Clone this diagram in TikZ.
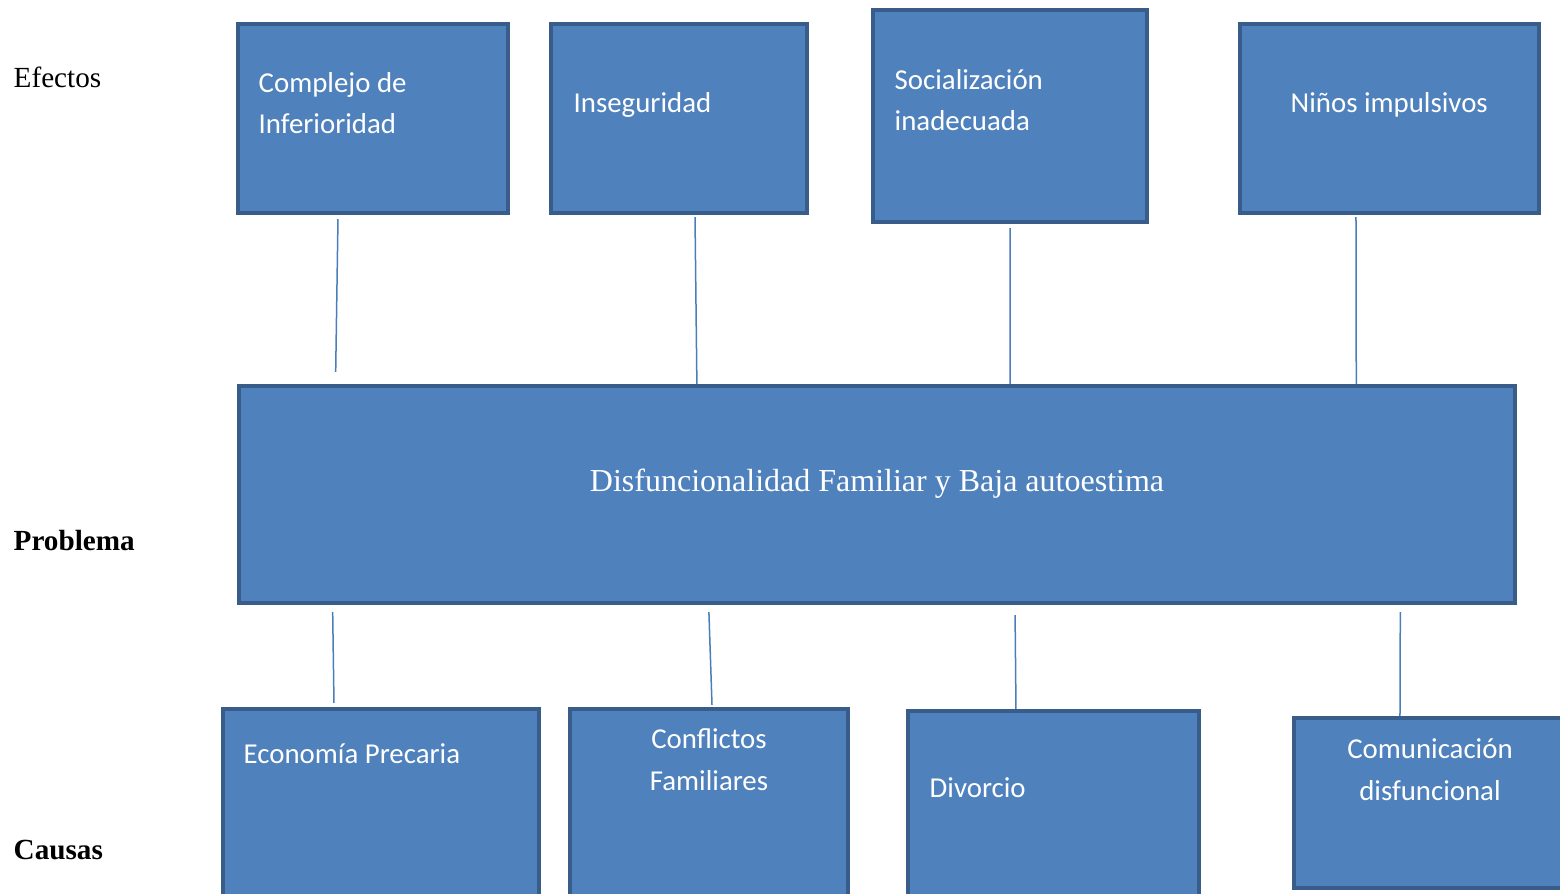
\documentclass[tikz,border=0pt]{standalone}
\usepackage{fontspec}
\setmainfont{Liberation Serif}
\newfontfamily\boxfont{Carlito}
\definecolor{boxfill}{HTML}{4F81BD}
\definecolor{boxline}{HTML}{385D8A}
\definecolor{linkcol}{HTML}{4A7EBB}
\tikzset{
  box/.style={draw=boxline, fill=boxfill, line width=0.04cm, inner sep=0pt},
  boxtext/.style={text=white, inner sep=0pt, anchor=base west, align=left, font=\boxfont\fontsize{8.2}{11.7}\selectfont},
  sidetext/.style={inner sep=0pt, anchor=base west, font=\fontsize{8.3}{10}\selectfont},
  link/.style={draw=linkcol, line width=0.015cm}
}
\begin{document}
\begin{tikzpicture}[x=0.01cm, y=-0.01cm]
  \useasboundingbox (0,0) rectangle (1560,894);
  % efectos
  \node[box, minimum width=2.70cm, minimum height=1.89cm] (ef1) at (373,118.5) {};
  \node[box, minimum width=2.56cm, minimum height=1.89cm] (ef2) at (679,118.5) {};
  \node[box, minimum width=2.74cm, minimum height=2.12cm] (ef3) at (1010,116) {};
  \node[box, minimum width=2.99cm, minimum height=1.89cm] (ef4) at (1389.5,118.5) {};
  % problema
  \node[box, minimum width=12.76cm, minimum height=2.17cm] (prob) at (877,494.5) {};
  % causas
  \node[box, minimum width=3.16cm, minimum height=2.09cm] (ca1) at (381,813.5) {};
  \node[box, minimum width=2.78cm, minimum height=2.09cm] (ca2) at (709,813.5) {};
  \node[box, minimum width=2.91cm, minimum height=2.07cm] (ca3) at (1053.5,814.5) {};
  \node[box, minimum width=2.84cm, minimum height=1.70cm] (ca4) at (1436.5,803) {};

  % texts
  \node[sidetext] (lef) at (13,88) {Efectos};
  \node[sidetext, font=\bfseries\fontsize{8.3}{10}\selectfont] (lprob) at (13,550) {Problema};
  \node[sidetext, font=\bfseries\fontsize{8.3}{10}\selectfont] (lca) at (13,859) {Causas};
  \node[boxtext] (tef1) at (258,134) {Complejo de\\Inferioridad};
  \node[boxtext] (tef2) at (573,113) {Inseguridad};
  \node[boxtext] (tef3) at (894,131) {Socialización\\inadecuada};
  \node[boxtext] (tef4) at (1290,113) {Niños impulsivos};
  \node[text=white, inner sep=0pt, anchor=base, font=\fontsize{9.1}{11}\selectfont] (tprob) at (877,491) {Disfuncionalidad Familiar y Baja autoestima};
  \node[boxtext] (tca1) at (243,763) {Economía Precaria};
  \node[boxtext, align=center, anchor=base] (tca2) at (709,790) {Conflictos\\Familiares};
  \node[boxtext] (tca3) at (929,797) {Divorcio};
  \node[boxtext, align=center, anchor=base] (tca4) at (1430,800) {Comunicación\\disfuncional};

  % connectors
  \draw[link] ([xshift=-0.35cm, yshift=-0.04cm]ef1.south) -- ([xshift=-5.41cm, yshift=0.12cm]prob.north);
  \draw[link] ([xshift=0.16cm, yshift=-0.02cm]ef2.south) -- ([xshift=-1.80cm]prob.north);
  \draw[link] ([yshift=-0.04cm]ef3.south) -- ([xshift=1.33cm]prob.north);
  \draw[link] ([xshift=-0.335cm, yshift=-0.02cm]ef4.south) -- ([xshift=4.79cm]prob.north);
  \draw[link] ([xshift=-5.44cm, yshift=-0.07cm]prob.south) -- ([xshift=-0.47cm, yshift=0.04cm]ca1.north);
  \draw[link] ([xshift=-1.68cm, yshift=-0.07cm]prob.south) -- ([xshift=0.03cm, yshift=0.02cm]ca2.north);
  \draw[link] ([xshift=1.38cm, yshift=-0.10cm]prob.south) -- ([xshift=-0.375cm]ca3.north);
  \draw[link] ([xshift=5.23cm, yshift=-0.07cm]prob.south) -- ([xshift=-0.365cm]ca4.north);
\end{tikzpicture}
\end{document}
